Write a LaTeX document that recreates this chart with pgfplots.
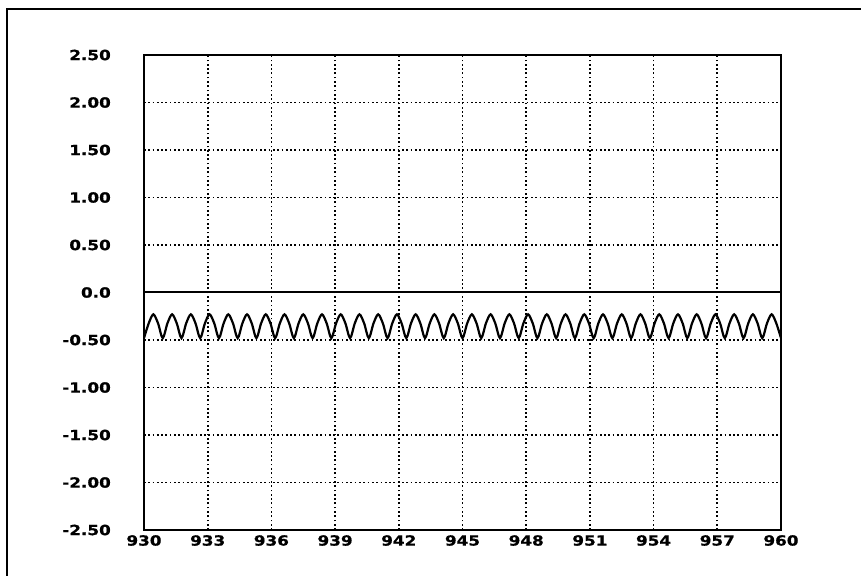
\documentclass[border=0pt]{standalone}
\usepackage{pgfplots}
\pgfplotsset{compat=1.18}
\usepackage{fontspec}
\newfontfamily\labfont{DejaVu Sans}[FakeStretch=1.2, FakeBold=0.8]
\begin{document}
\begin{tikzpicture}
\useasboundingbox (-144bp,-46bp) rectangle (717bp,530bp);
\draw[line width=2.2bp] (-137bp,-60bp) -- (-137bp,521bp) -- (730bp,521bp);
\begin{axis}[
  scale only axis, width=637bp, height=475bp,
  xmin=930, xmax=960, ymin=-2.5, ymax=2.5,
  xtick={930,933,936,939,942,945,948,951,954,957,960},
  ytick={-2.5,-2,-1.5,-1,-0.5,0,0.5,1,1.5,2,2.5},
  xticklabels={930,933,936,939,942,945,948,951,954,957,960},
  yticklabels={-2.50,-2.00,-1.50,-1.00,-0.50,0.0,0.50,1.00,1.50,2.00,2.50},
  major tick length=0pt,
  grid=major,
  grid style={black, line width=1.7bp, dash pattern=on 1.7bp off 2.6bp},
  axis line style={black, line width=2bp},
  ticklabel style={font={\labfont\bfseries\fontsize{14bp}{15bp}\selectfont}, inner sep=0pt},
  yticklabel style={anchor=east, xshift=-33bp},
  xticklabel style={anchor=north, yshift=-5bp},
  clip=true,
]
\addplot[black, line width=2bp] coordinates {(930,0) (960,0)};
\addplot[black, line width=2.2bp, smooth, tension=0.5] coordinates {
(930.000,-0.48) (930.221,-0.325) (930.441,-0.23) (930.662,-0.325)
(930.882,-0.48) (931.103,-0.325) (931.323,-0.23) (931.544,-0.325)
(931.765,-0.48) (931.986,-0.325) (932.206,-0.23) (932.427,-0.325)
(932.647,-0.48) (932.868,-0.325) (933.088,-0.23) (933.309,-0.325)
(933.529,-0.48) (933.750,-0.325) (933.970,-0.23) (934.191,-0.325)
(934.412,-0.48) (934.633,-0.325) (934.853,-0.23) (935.074,-0.325)
(935.294,-0.48) (935.515,-0.325) (935.735,-0.23) (935.956,-0.325)
(936.176,-0.48) (936.397,-0.325) (936.617,-0.23) (936.838,-0.325)
(937.059,-0.48) (937.280,-0.325) (937.500,-0.23) (937.721,-0.325)
(937.941,-0.48) (938.162,-0.325) (938.382,-0.23) (938.603,-0.325)
(938.824,-0.48) (939.045,-0.325) (939.265,-0.23) (939.486,-0.325)
(939.706,-0.48) (939.927,-0.325) (940.147,-0.23) (940.368,-0.325)
(940.588,-0.48) (940.809,-0.325) (941.029,-0.23) (941.250,-0.325)
(941.471,-0.48) (941.692,-0.325) (941.912,-0.23) (942.133,-0.325)
(942.353,-0.48) (942.574,-0.325) (942.794,-0.23) (943.015,-0.325)
(943.235,-0.48) (943.456,-0.325) (943.676,-0.23) (943.897,-0.325)
(944.118,-0.48) (944.339,-0.325) (944.559,-0.23) (944.780,-0.325)
(945.000,-0.48) (945.221,-0.325) (945.441,-0.23) (945.662,-0.325)
(945.882,-0.48) (946.103,-0.325) (946.323,-0.23) (946.544,-0.325)
(946.765,-0.48) (946.986,-0.325) (947.206,-0.23) (947.427,-0.325)
(947.647,-0.48) (947.868,-0.325) (948.088,-0.23) (948.309,-0.325)
(948.529,-0.48) (948.750,-0.325) (948.970,-0.23) (949.191,-0.325)
(949.412,-0.48) (949.633,-0.325) (949.853,-0.23) (950.074,-0.325)
(950.294,-0.48) (950.515,-0.325) (950.735,-0.23) (950.956,-0.325)
(951.176,-0.48) (951.397,-0.325) (951.617,-0.23) (951.838,-0.325)
(952.059,-0.48) (952.280,-0.325) (952.500,-0.23) (952.721,-0.325)
(952.941,-0.48) (953.162,-0.325) (953.382,-0.23) (953.603,-0.325)
(953.824,-0.48) (954.045,-0.325) (954.265,-0.23) (954.486,-0.325)
(954.706,-0.48) (954.927,-0.325) (955.147,-0.23) (955.368,-0.325)
(955.588,-0.48) (955.809,-0.325) (956.029,-0.23) (956.250,-0.325)
(956.471,-0.48) (956.692,-0.325) (956.912,-0.23) (957.133,-0.325)
(957.353,-0.48) (957.574,-0.325) (957.794,-0.23) (958.015,-0.325)
(958.235,-0.48) (958.456,-0.325) (958.676,-0.23) (958.897,-0.325)
(959.118,-0.48) (959.339,-0.325) (959.559,-0.23) (959.780,-0.325)
(960.000,-0.48)
};
\end{axis}
\end{tikzpicture}
\end{document}
